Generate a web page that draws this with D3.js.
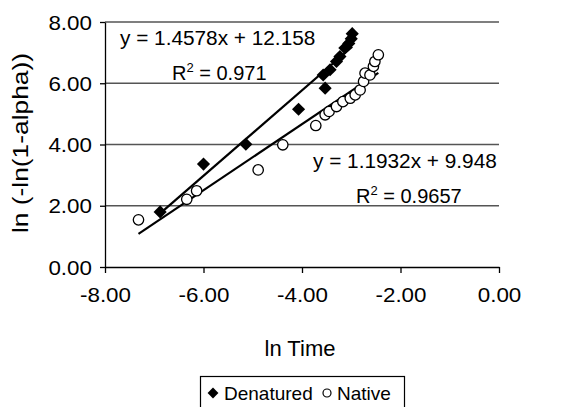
<!DOCTYPE html>
<meta charset="utf-8">
<script src="https://cdn.jsdelivr.net/npm/d3@7"></script>

<style>
body {margin: 0; background: #fff;}
text {font-family: "Liberation Sans", Arial, sans-serif; fill: #000;}
.axis path, .axis line {stroke: #000; stroke-width: 1.3px;}
.grid line {stroke: #555; stroke-width: 1.3px;}
</style>

<svg width="561" height="407"></svg>

<script>
// data
var denaturedX = [-6.88, -6.00, -5.14, -4.07, -3.53, -3.57, -3.43, -3.30, -3.23, -3.13, -3.05, -3.00, -2.98];
var denaturedY = [ 1.80,  3.36,  4.01,  5.15,  5.84,  6.27,  6.44,  6.71,  6.87,  7.15,  7.30,  7.45,  7.62];
var nativeX = [-7.32, -6.34, -6.14, -4.89, -4.39, -3.72, -3.53, -3.45, -3.30, -3.17, -3.02, -2.92, -2.82, -2.75, -2.72, -2.62, -2.55, -2.52, -2.45];
var nativeY = [ 1.54,  2.21,  2.49,  3.17,  3.99,  4.62,  4.97,  5.08,  5.24,  5.40,  5.51,  5.62,  5.78,  6.06,  6.33,  6.27,  6.55,  6.71,  6.93];
var seriesNames = ["Denatured", "Native"];
var xTicks = [-8, -6, -4, -2, 0];
var yTicks = [0, 2, 4, 6, 8];
var equations = ["y = 1.4578x + 12.158", "y = 1.1932x + 9.948"];
var rSquared = ["0.971", "0.9657"];

var svg = d3.select("svg");

var x = d3.scaleLinear().domain([-8, 0]).range([105, 499]);
var y = d3.scaleLinear().domain([0, 8]).range([267, 22]);

// plain hyphen for negatives, like the spreadsheet
var fmt = function(d) { return d.toFixed(2); };

// least squares fit, drawn from min x to max x like the spreadsheet trendline
function fit(xs, ys) {
  var mx = d3.mean(xs), my = d3.mean(ys);
  var sxy = d3.sum(xs, function(v, i) { return (v - mx) * (ys[i] - my); });
  var sxx = d3.sum(xs, function(v) { return (v - mx) * (v - mx); });
  var b = sxy / sxx, a = my - b * mx;
  var x0 = d3.min(xs), x1 = d3.max(xs);
  return [[x0, a + b * x0], [x1, a + b * x1]];
}

// gridlines
svg.append("g")
    .attr("class", "grid")
    .selectAll("line").data(yTicks.slice(1)).enter().append("line")
    .attr("x1", x(-8)).attr("x2", x(0))
    .attr("y1", function(d) { return y(d); })
    .attr("y2", function(d) { return y(d); });

var xAxis = svg.append("g")
    .attr("class", "axis")
    .attr("transform", "translate(0," + y(0) + ")")
    .call(d3.axisBottom(x).tickValues(xTicks).tickFormat(fmt).tickSize(6).tickSizeOuter(0));

var yAxis = svg.append("g")
    .attr("class", "axis")
    .attr("transform", "translate(" + x(-8) + ",0)")
    .call(d3.axisLeft(y).tickValues(yTicks).tickFormat(fmt).tickSize(5).tickSizeOuter(0));

xAxis.selectAll("text")
    .attr("font-size", 20).attr("y", 0).attr("dy", 0)
    .attr("transform", "translate(0,35) scale(1.12,1)");
yAxis.selectAll("text")
    .attr("font-size", 20).attr("x", 0).attr("dy", "0.35em")
    .attr("transform", "translate(-13,0) scale(1.12,1)");
svg.selectAll(".axis .domain").attr("stroke-width", 1.5);

// axis titles
svg.append("text")
    .attr("x", 300).attr("y", 356)
    .attr("text-anchor", "middle").attr("font-size", 22)
    .text("ln Time");

svg.append("text")
    .attr("transform", "translate(28,143) rotate(-90)")
    .attr("text-anchor", "middle").attr("font-size", 22)
    .attr("textLength", 180).attr("lengthAdjust", "spacingAndGlyphs")
    .text("ln (-ln(1-alpha))");

// trendlines
var line = d3.line().x(function(d) { return x(d[0]); }).y(function(d) { return y(d[1]); });
[[denaturedX, denaturedY], [nativeX, nativeY]].forEach(function(s) {
  svg.append("path")
      .attr("d", line(fit(s[0], s[1])))
      .attr("stroke", "#000").attr("stroke-width", 2.2).attr("fill", "none");
});

// markers
var diamond = d3.symbol().type(d3.symbolDiamond2).size(110);
svg.append("g").selectAll("path").data(denaturedX).enter().append("path")
    .attr("d", diamond)
    .attr("transform", function(d, i) { return "translate(" + x(d) + "," + y(denaturedY[i]) + ")"; })
    .attr("fill", "#000");

svg.append("g").selectAll("circle").data(nativeX).enter().append("circle")
    .attr("cx", function(d) { return x(d); })
    .attr("cy", function(d, i) { return y(nativeY[i]); })
    .attr("r", 5.2)
    .attr("fill", "#fff").attr("stroke", "#000").attr("stroke-width", 1.3);

// trendline labels
var labelPos = [[120, 45, 172, 80], [313, 168, 356, 203]];
equations.forEach(function(eq, i) {
  var p = labelPos[i];
  svg.append("text").attr("x", p[0]).attr("y", p[1]).attr("font-size", 20)
      .attr("transform", "translate(" + p[0] + "," + p[1] + ") scale(1.04,1) translate(" + (-p[0]) + "," + (-p[1]) + ")")
      .text(eq);
  var r = svg.append("text").attr("x", p[2]).attr("y", p[3]).attr("font-size", 20);
  r.append("tspan").text("R");
  r.append("tspan").attr("font-size", 13).attr("dy", -8).text("2");
  r.append("tspan").attr("dy", 8).text(" = " + rSquared[i]);
});

// legend
var lg = svg.append("g");
lg.append("rect")
    .attr("x", 200.5).attr("y", 376.5).attr("width", 204).attr("height", 40)
    .attr("fill", "#fff").attr("stroke", "#000").attr("stroke-width", 1.2);
lg.append("path")
    .attr("d", d3.symbol().type(d3.symbolDiamond2).size(75))
    .attr("transform", "translate(213,393)").attr("fill", "#000");
lg.append("text").attr("x", 224).attr("y", 400).attr("font-size", 19).text(seriesNames[0]);
lg.append("circle").attr("cx", 327).attr("cy", 393).attr("r", 4)
    .attr("fill", "#fff").attr("stroke", "#000").attr("stroke-width", 1.2);
lg.append("text").attr("x", 337).attr("y", 400).attr("font-size", 19).text(seriesNames[1]);
</script>
